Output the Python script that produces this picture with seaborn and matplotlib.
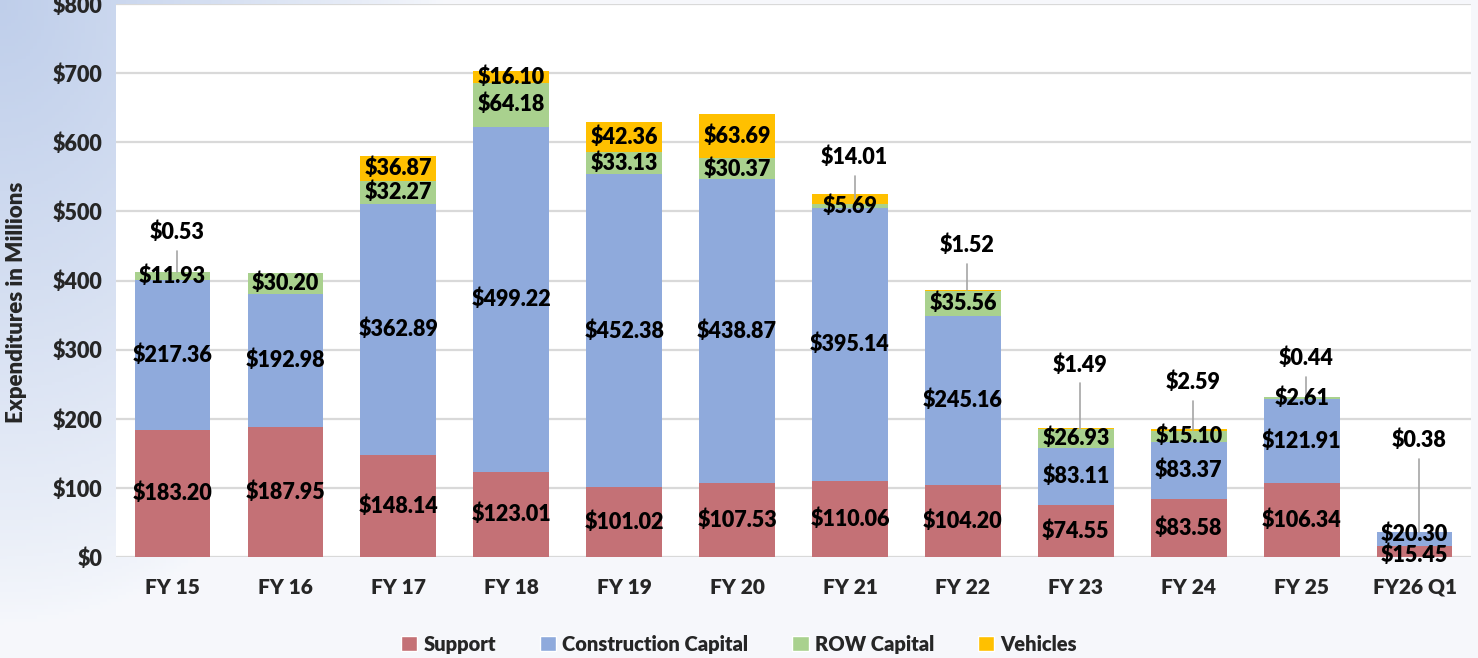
import numpy as np
import pandas as pd
import matplotlib
matplotlib.use("Agg")
from matplotlib import pyplot as plt
from matplotlib.patches import Patch
import seaborn as sns

years = ['FY 15', 'FY 16', 'FY 17', 'FY 18', 'FY 19', 'FY 20', 'FY 21', 'FY 22',
         'FY 23', 'FY 24', 'FY 25', 'FY26 Q1']
support = [183.20, 187.95, 148.14, 123.01, 101.02, 107.53, 110.06, 104.20, 74.55, 83.58, 106.34, 15.45]
construction = [217.36, 192.98, 362.89, 499.22, 452.38, 438.87, 395.14, 245.16, 83.11, 83.37, 121.91, 20.30]
row_capital = [11.93, 30.20, 32.27, 64.18, 33.13, 30.37, 5.69, 35.56, 26.93, 15.10, 2.61, 0.38]
vehicles = [0.53, 0.0, 36.87, 16.10, 42.36, 63.69, 14.01, 1.52, 1.49, 2.59, 0.44, 0.0]

series = ['Support', 'Construction Capital', 'ROW Capital', 'Vehicles']
colors = ['#c47176', '#8faadc', '#a9d18e', '#ffc000']

# small segments get a label above the bar with a leader line: (year index, series index, label height)
callouts = [(0, 3, 470), (6, 3, 578), (7, 3, 451), (8, 3, 278), (9, 3, 253), (10, 3, 288), (11, 2, 169)]

df = pd.DataFrame({'year': years, 'Support': support, 'Construction Capital': construction,
                   'ROW Capital': row_capital, 'Vehicles': vehicles})
cum = df[series].cumsum(axis=1)

sns.set_style("white")
plt.rcParams['font.family'] = ['Lato', 'DejaVu Sans']
plt.rcParams['font.weight'] = 'heavy'
W = 'heavy'
FS = 15.5

fig = plt.figure(figsize=(14.78, 6.58), dpi=100)

# background gradient, bluish in the top-left corner
bg = fig.add_axes([0, 0, 1, 1], zorder=-10)
gx, gy = np.meshgrid(np.linspace(0, 1, 400), np.linspace(0, 1, 200))
w = np.clip(1 - np.sqrt((gx / 0.3) ** 2 + (gy / 0.95) ** 2), 0, 1) ** 0.8
base = np.array([0.965, 0.972, 0.988])
blue = np.array([0.75, 0.81, 0.92])
img = base + w[..., None] * (blue - base)
bg.imshow(img, aspect='auto', extent=[0, 1, 0, 1], origin='upper')
bg.axis('off')

ax = fig.add_axes([0.0785, 0.1535, 0.9168, 0.8404])
ax.set_facecolor('white')
for k in range(len(series) - 1, -1, -1):
    sns.barplot(x=df['year'], y=cum[series[k]], color=colors[k], width=0.67,
                saturation=1, linewidth=0, ax=ax, zorder=3)

ax.set_ylim(0, 800)
ax.set_yticks(range(0, 801, 100))
ax.set_yticklabels([f'${v}' for v in range(0, 801, 100)], fontsize=FS, fontweight=W)
ax.tick_params(axis='x', labelsize=15, pad=15, length=0)
ax.tick_params(axis='y', length=0, pad=10)
for lab in ax.get_xticklabels():
    lab.set_fontweight(W)
ax.grid(axis='y', color='#d9d9d9', lw=1.6, zorder=0)
ax.set_axisbelow(True)
for s in ax.spines.values():
    s.set_visible(False)
ax.set_xlabel('')
ax.set_ylabel('Expenditures in Millions', fontsize=16, fontweight=W)
ax.yaxis.set_label_coords(-0.066, 0.46)
ax.set_xlim(-0.5, len(years) - 0.5)

called = {(i, k) for i, k, _ in callouts}
vals = df[series].values
bottoms = cum.values - vals
for i in range(len(years)):
    for k in range(len(series)):
        v = vals[i, k]
        if v <= 0 or (i, k) in called:
            continue
        yc = bottoms[i, k] + v / 2
        dy = 0
        if i == 11:
            dy = 8 if k == 1 else -5
        ax.text(i, yc + dy, f'${v:.2f}', ha='center', va='center', fontsize=FS,
                fontweight=W, color='black', zorder=5)

for i, k, ylab in callouts:
    v = vals[i, k]
    yc = bottoms[i, k] + v / 2
    ax.text(i + 0.04, ylab, f'${v:.2f}', ha='center', va='center', fontsize=FS,
            fontweight=W, color='black', zorder=5)
    ax.plot([i + 0.04, i + 0.04], [ylab - 27, yc], color='#a6a6a6', lw=1.2, zorder=4)

handles = [Patch(facecolor=c, label=s) for s, c in zip(series, colors)]
fig.legend(handles=handles, loc='center', bbox_to_anchor=(0.5, 0.021), ncol=4,
           frameon=False, prop={'size': 14.5, 'weight': W}, handlelength=0.8,
           handleheight=0.8, handletextpad=0.3, columnspacing=2.2)

fig.savefig('out.png', dpi=100)
